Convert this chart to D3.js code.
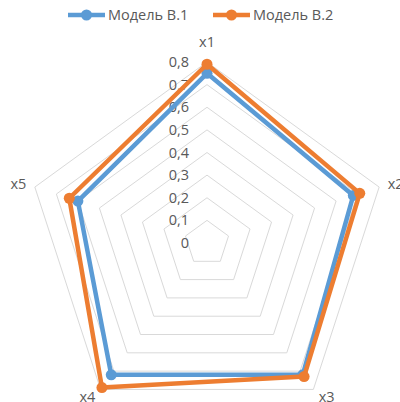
<!DOCTYPE html>
<html>
<head>
<meta charset="utf-8">
<script src="https://cdn.jsdelivr.net/npm/d3@7"></script>
<style>
  html, body { margin: 0; padding: 0; background: #fff; }
  svg { display: block; }
  text { font-family: "Open Sans", "Liberation Sans", sans-serif; fill: #595959; }
</style>
</head>
<body>
<svg id="chart" width="400" height="402"></svg>
<script>
// Radar chart: two models scored on five criteria
const axesLabels = ["x1", "x2", "x3", "x4", "x5"];
const seriesNames = ["Модель В.1", "Модель В.2"];
const model1 = [0.75, 0.68, 0.72, 0.72, 0.60];
const model2 = [0.79, 0.71, 0.73, 0.79, 0.64];
const tickValues = [0, 0.1, 0.2, 0.3, 0.4, 0.5, 0.6, 0.7, 0.8];
const tickLabels = ["0", "0,1", "0,2", "0,3", "0,4", "0,5", "0,6", "0,7", "0,8"];
const colors = ["#5B9BD5", "#ED7D31"];
const fontSize = 14.5;

const svg = d3.select("#chart");
const cx = 207, cy = 243;
const rScale = d3.scaleLinear().domain([0, 0.8]).range([0, 181]);
const angle = d3.scalePoint().domain(axesLabels).range([0, 2 * Math.PI * 4 / 5]);

const pt = (label, v) => {
  const a = angle(label);
  const r = rScale(v);
  return [cx + r * Math.sin(a), cy - r * Math.cos(a)];
};

// concentric grid pentagons
const grid = svg.append("g");
tickValues.filter(t => t > 0).forEach(t => {
  grid.append("polygon")
    .attr("points", axesLabels.map(l => pt(l, t).join(",")).join(" "))
    .attr("fill", "none")
    .attr("stroke", "#D9D9D9")
    .attr("stroke-width", 1);
});

// radial value labels along the first axis
svg.append("g").selectAll("text")
  .data(tickValues)
  .join("text")
  .attr("x", cx - 18)
  .attr("y", d => cy - rScale(d))
  .attr("dy", "0.35em")
  .attr("text-anchor", "end")
  .attr("font-size", fontSize)
  .text((d, i) => tickLabels[i]);

// category labels around the outside
svg.append("g").selectAll("text")
  .data(axesLabels)
  .join("text")
  .each(function(l) {
    const a = angle(l);
    const s = Math.sin(a);
    const top = Math.abs(s) < 0.01;
    const [x, y] = pt(l, top ? 0.8 * 201 / 181 : 0.8 * 190 / 181);
    d3.select(this)
      .attr("x", x)
      .attr("y", y)
      .attr("dy", "0.35em")
      .attr("text-anchor", top ? "middle" : (s > 0 ? "start" : "end"));
  })
  .attr("font-size", fontSize)
  .text(d => d);

// series lines with markers
const line = d3.line().curve(d3.curveLinearClosed);
[model1, model2].forEach((vals, i) => {
  const pts = axesLabels.map((l, j) => pt(l, vals[j]));
  const g = svg.append("g");
  g.append("path")
    .attr("d", line(pts))
    .attr("fill", "none")
    .attr("stroke", colors[i])
    .attr("stroke-width", 4.5)
    .attr("stroke-linejoin", "round");
  g.selectAll("circle")
    .data(pts)
    .join("circle")
    .attr("cx", d => d[0])
    .attr("cy", d => d[1])
    .attr("r", 5.5)
    .attr("fill", colors[i]);
});

// legend
const legend = svg.append("g");
const legendItems = [{x: 68, name: seriesNames[0]}, {x: 213, name: seriesNames[1]}];
legendItems.forEach((it, i) => {
  const y = 15;
  legend.append("line")
    .attr("x1", it.x).attr("x2", it.x + 37)
    .attr("y1", y).attr("y2", y)
    .attr("stroke", colors[i]).attr("stroke-width", 4.5);
  legend.append("circle")
    .attr("cx", it.x + 18.5).attr("cy", y).attr("r", 5.5)
    .attr("fill", colors[i]);
  legend.append("text")
    .attr("x", it.x + 40).attr("y", y)
    .attr("dy", "0.35em")
    .attr("font-size", fontSize)
    .text(it.name);
});
</script>
</body>
</html>
